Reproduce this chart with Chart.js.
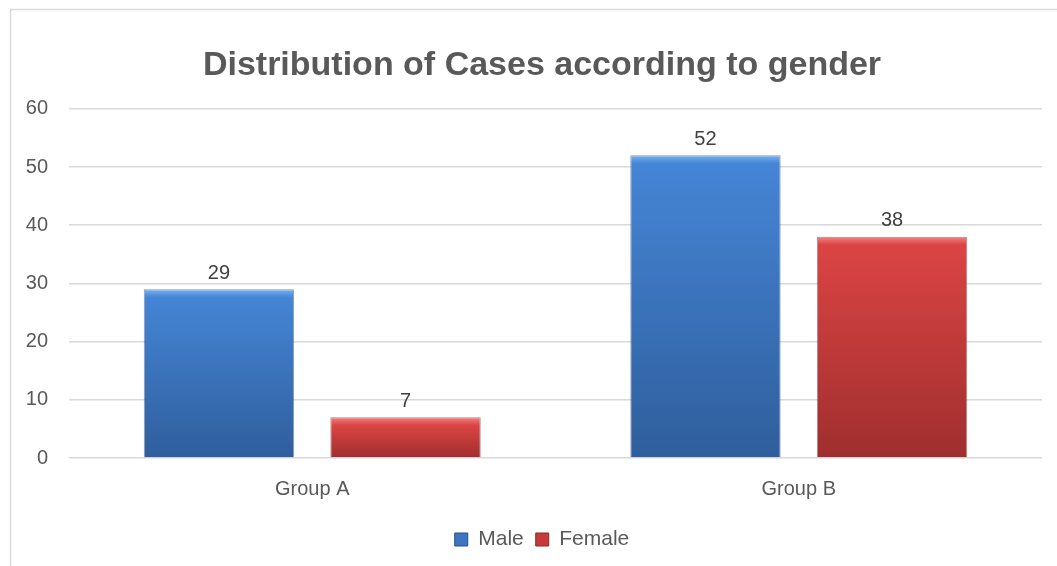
<!DOCTYPE html>
<html>
<head>
<meta charset="utf-8">
<script src="https://cdn.jsdelivr.net/npm/chart.js@4"></script>
<style>
  html, body { margin: 0; padding: 0; background: #fff; }
  #wrap { width: 1057px; height: 566px; }
</style>
</head>
<body>
<div id="wrap"><canvas id="barChart"></canvas></div>
<script>
// data
var chartTitle = 'Distribution of Cases according to gender';
var groups = ['Group A', 'Group B'];
var male = [29, 52];
var female = [7, 38];
var yTicks = [0, 10, 20, 30, 40, 50, 60];

// vertical gradient for each bar, top of bar to zero line
function barFill(top, mid, bottom) {
  return function (ctx) {
    var chart = ctx.chart;
    if (!chart.chartArea || ctx.raw == null) return mid;
    var y = chart.scales.y;
    var y0 = y.getPixelForValue(ctx.raw);
    var y1 = y.getPixelForValue(0);
    var g = chart.ctx.createLinearGradient(0, y0, 0, y1);
    var h = Math.max(y1 - y0, 1);
    g.addColorStop(0, top);
    g.addColorStop(Math.min(8 / h, 0.5), mid);
    g.addColorStop(1, bottom);
    return g;
  };
}

// outer frame; title and legend are centred on the frame, not the plot
var frame = {
  id: 'frame',
  afterLayout: function (chart) {
    [chart.titleBlock, chart.legend].forEach(function (b) {
      if (b) { b.left += 16; b.right += 16; }
    });
  },
  beforeDraw: function (chart) {
    var c = chart.ctx;
    c.save();
    c.strokeStyle = '#d9d9d9';
    c.lineWidth = 1.5;
    c.strokeRect(10.5, 9.5, 1200, 700);
    c.restore();
  }
};

// value labels above bars
var valueLabels = {
  id: 'valueLabels',
  afterDatasetsDraw: function (chart) {
    var c = chart.ctx;
    c.save();
    c.font = '20px "Liberation Sans", Arial, sans-serif';
    c.fillStyle = '#404040';
    c.textAlign = 'center';
    c.textBaseline = 'bottom';
    chart.data.datasets.forEach(function (ds, i) {
      chart.getDatasetMeta(i).data.forEach(function (bar, j) {
        c.fillText(ds.data[j], bar.x, bar.y - 6);
      });
    });
    c.restore();
  }
};

const areaBar = document.getElementById('barChart').getContext('2d');
const barChart = new Chart(areaBar, {
  type: 'bar',
  data: {
    labels: groups,
    datasets: [
      {
        label: 'Male',
        data: male,
        backgroundColor: barFill('#7ab3f0', '#4585d6', '#2f5e9c'),
        borderColor: 'rgba(40,70,120,0.55)',
        borderWidth: 1,
        categoryPercentage: 0.767,
        barPercentage: 0.806
      },
      {
        label: 'Female',
        data: female,
        backgroundColor: barFill('#f58080', '#db4444', '#a02e2e'),
        borderColor: 'rgba(110,30,30,0.55)',
        borderWidth: 1,
        categoryPercentage: 0.767,
        barPercentage: 0.806
      }
    ]
  },
  options: {
    responsive: true,
    maintainAspectRatio: false,
    animation: false,
    layout: {
      padding: { left: 10, right: 15, top: 9, bottom: 6 }
    },
    plugins: {
      title: {
        display: true,
        text: chartTitle,
        color: '#595959',
        font: { family: '"Liberation Sans", Arial, sans-serif', size: 34, weight: 'bold' },
        padding: { top: 36, bottom: 23 }
      },
      legend: {
        display: true,
        position: 'bottom',
        labels: {
          color: '#595959',
          font: { family: '"Liberation Sans", Arial, sans-serif', size: 21 },
          boxWidth: 13,
          boxHeight: 13,
          padding: 12,
          generateLabels: function (chart) {
            var cols = ['#3d75c0', '#c83a3a'];
            return chart.data.datasets.map(function (ds, i) {
              return {
                text: ds.label,
                fillStyle: cols[i],
                strokeStyle: i === 0 ? '#2a4f85' : '#8a2a2a',
                lineWidth: 1,
                fontColor: '#595959',
                datasetIndex: i
              };
            });
          }
        }
      },
      tooltip: { enabled: false }
    },
    scales: {
      x: {
        grid: { display: false, drawTicks: false },
        border: { display: false },
        ticks: {
          color: '#595959',
          font: { family: '"Liberation Sans", Arial, sans-serif', size: 20 },
          padding: 19
        },
        afterFit: function (scale) { scale.height = 59; }
      },
      y: {
        min: 0,
        max: 60,
        afterBuildTicks: function (scale) {
          scale.ticks = yTicks.map(function (v) { return { value: v }; });
        },
        grid: { color: '#d9d9d9', lineWidth: 1.5, drawTicks: false },
        border: { display: false },
        ticks: {
          color: '#595959',
          font: { family: '"Liberation Sans", Arial, sans-serif', size: 20 },
          padding: 21
        },
        afterFit: function (scale) { scale.width = 59; }
      }
    }
  },
  plugins: [frame, valueLabels]
});
</script>
</body>
</html>
